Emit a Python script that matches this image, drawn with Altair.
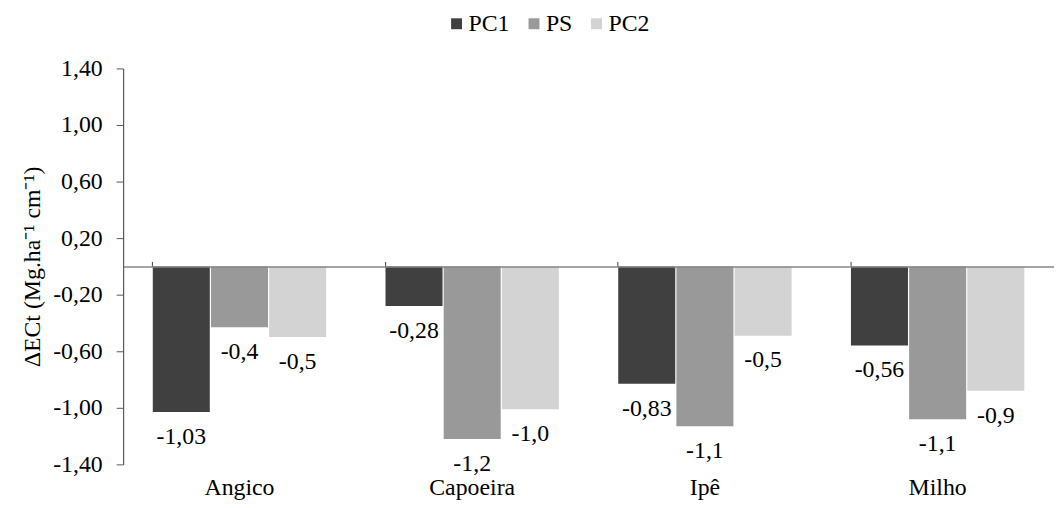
import altair as alt
import pandas as pd

categories = ["Angico", "Capoeira", "Ipê", "Milho"]
series = ["PC1", "PS", "PC2"]
pc1 = [-1.03, -0.28, -0.83, -0.56]
ps = [-0.43, -1.22, -1.13, -1.08]
pc2 = [-0.50, -1.01, -0.49, -0.88]
labels_pc1 = ["-1,03", "-0,28", "-0,83", "-0,56"]
labels_ps = ["-0,4", "-1,2", "-1,1", "-1,1"]
labels_pc2 = ["-0,5", "-1,0", "-0,5", "-0,9"]
y_ticks = [-1.4, -1.0, -0.6, -0.2, 0.2, 0.6, 1.0, 1.4]
colors = ["#404040", "#999999", "#d3d3d3"]

rows = []
for s, vals, labs in zip(series, [pc1, ps, pc2], [labels_pc1, labels_ps, labels_pc2]):
    for c, v, l in zip(categories, vals, labs):
        rows.append({"cat": c, "series": s, "value": v, "label": l})
df = pd.DataFrame(rows)

FONT = "Liberation Serif"
FS = 24

xscale = alt.Scale(paddingInner=0.255, paddingOuter=0.1275)
offscale = alt.Scale(paddingInner=0.02)
yscale = alt.Scale(domain=[-1.4, 1.4], nice=False, zero=False)

yaxis = alt.Axis(values=y_ticks,
                 labelExpr="replace(replace(format(datum.value, '.2f'), '.', ','), '\u2212', '-')",
                 title="ΔECt (Mg.ha⁻¹ cm⁻¹)", titleFont=FONT, titleFontSize=FS,
                 titleFontWeight="normal", titleColor="black", titlePadding=8,
                 labelFont=FONT, labelFontSize=FS, labelColor="black",
                 labelPadding=14, tickSize=7, tickColor="#595959",
                 domainColor="#595959", domainWidth=1.2, grid=False)

base = alt.Chart(df)

bars = base.mark_bar().encode(
    x=alt.X("cat:N", sort=categories, scale=xscale,
            axis=alt.Axis(orient="bottom", title=None, domain=False, ticks=False,
                          tickSize=0, labelPadding=11, labelFontSize=FS, labelAngle=0,
                          labelColor="black", labelFont=FONT, grid=False)),
    xOffset=alt.XOffset("series:N", sort=series, scale=offscale),
    y=alt.Y("value:Q", scale=yscale, axis=yaxis),
    color=alt.Color("series:N", sort=series,
                    scale=alt.Scale(domain=series, range=colors),
                    legend=alt.Legend(orient="none", legendX=320, legendY=-57,
                                      direction="horizontal", title=None,
                                      symbolType="square", symbolSize=121,
                                      symbolStrokeWidth=0, symbolOffset=4,
                                      labelFont=FONT,
                                      labelFontSize=FS, labelColor="black",
                                      columnPadding=8, labelOffset=0, padding=0)),
)

text = base.mark_text(baseline="top", dy=13, fontSize=FS, font=FONT, color="black").encode(
    x=alt.X("cat:N", sort=categories, scale=xscale,
            axis=alt.Axis(orient="top", offset=-199.5, labels=False, title=None,
                          domainColor="#868686", domainWidth=1.5, tickColor="#404040",
                          tickSize=5, bandPosition=0, zindex=1, grid=False)),
    xOffset=alt.XOffset("series:N", sort=series, scale=offscale),
    y=alt.Y("value:Q", scale=yscale, axis=yaxis),
    text="label:N",
)

chart = alt.layer(bars, text).resolve_axis(x="independent").properties(
    width=938, height=399,
    autosize=alt.AutoSizeParams(type="none"),
    padding={"left": 116, "top": 59, "right": 0, "bottom": 34},
).configure(background="white", font=FONT).configure_view(stroke=None).configure_axis(grid=False)

chart.save("out.html", embed_options={"renderer": "svg", "actions": False})
